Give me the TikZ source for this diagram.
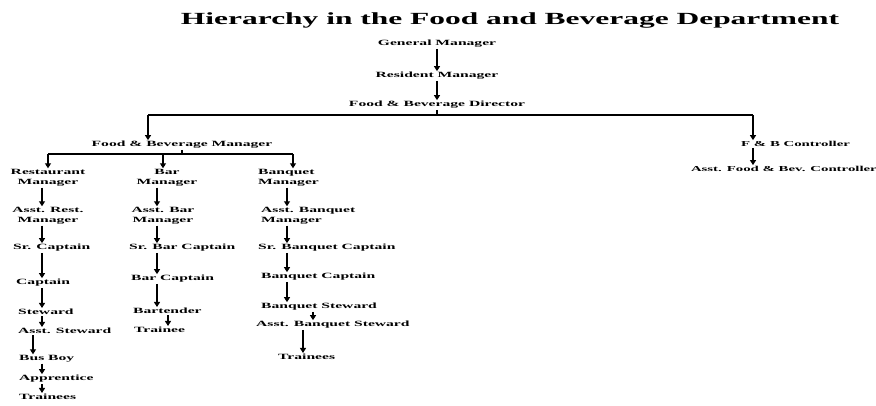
\documentclass[tikz,border=0pt]{standalone}
\usepackage{fontspec}
\setmainfont{Liberation Serif}
\newfontfamily\labfont[FakeStretch=1.95]{Liberation Serif}
\newfontfamily\titlefont[FakeStretch=1.85]{Liberation Serif}
\usetikzlibrary{arrows.meta}
\tikzset{
  lab/.style={font=\labfont\bfseries\fontsize{8}{10}\selectfont, inner sep=1pt, align=center},
  labl/.style={lab, align=left, anchor=west},
  rlab/.style={lab, font=\labfont\bfseries\fontsize{7.6}{9}\selectfont},
  arr/.style={-{Triangle[length=5pt,width=6pt]}, line width=1.1pt},
  ln/.style={line width=1.1pt},
}
\begin{document}
\begin{tikzpicture}[x=1pt,y=-1pt]
\useasboundingbox[fill=white] (0,0) rectangle (876,405);
\node[font=\titlefont\bfseries\fontsize{17}{20}\selectfont, inner sep=0pt] (title) at (510,20) {Hierarchy in the Food and Beverage Department};
% top chain
\node[lab] (gm) at (437,44) {General Manager};
\node[lab] (rm) at (437,76) {Resident Manager};
\node[lab] (fbd) at (437,105) {Food \& Beverage Director};
\node[lab] (fbm) at (182,145) {Food \& Beverage Manager};
\node[rlab, anchor=west] (fbc) at (740,144) {F \& B Controller};
\node[rlab, anchor=east] (afbc) at (878,169) {Asst. Food \& Bev. Controller};
% restaurant column
\node[lab] (rest) at (48,178) {Restaurant\\Manager};
\node[lab] (arest) at (48,216) {Asst. Rest.\\Manager};
\node[labl] (srcap) at (12,248) {Sr. Captain};
\node[labl] (cap) at (15,283) {Captain};
\node[labl] (stew) at (17,312) {Steward};
\node[labl] (astew) at (17,331) {Asst. Steward};
\node[labl] (busboy) at (18,359) {Bus Boy};
\node[labl] (appr) at (18,379) {Apprentice};
\node[labl] (trR) at (18,397) {Trainees};
% bar column
\node[lab] (bar) at (167,178) {Bar\\Manager};
\node[lab] (abar) at (163,216) {Asst. Bar\\Manager};
\node[labl] (srbar) at (128,248) {Sr. Bar Captain};
\node[labl] (barcap) at (130,279) {Bar Captain};
\node[labl] (bartender) at (132,311) {Bartender};
\node[labl] (trB) at (133,330) {Trainee};
% banquet column
\node[labl] (banq) at (257,178) {Banquet\\Manager};
\node[labl] (abanq) at (260,216) {Asst. Banquet\\Manager};
\node[labl] (srbanq) at (257,248) {Sr. Banquet Captain};
\node[labl] (banqcap) at (260,277) {Banquet Captain};
\node[labl] (banqstew) at (260,307) {Banquet Steward};
\node[labl] (abanqstew) at (255,325) {Asst. Banquet Steward};
\node[labl] (trQ) at (277,357) {Trainees};
% helper coordinates
\coordinate (j1) at (437,115);
\coordinate (jL) at (148,115);
\coordinate (jR) at (753,115);
\coordinate (k1) at (48,154);
\coordinate (k2) at (163,154);
\coordinate (k3) at (293,154);
\coordinate (x42) at (42,0);
\coordinate (x33) at (33,0);
\coordinate (x157) at (157,0);
\coordinate (x168) at (168,0);
\coordinate (x287) at (287,0);
\coordinate (x313) at (313,0);
\coordinate (x303) at (303,0);
% top connectors
\draw[arr] (gm) -- (rm);
\draw[arr] (rm) -- (fbd);
\draw[ln] (fbd) -- (j1);
\draw[ln] (jL) -- (jR);
\draw[arr] (jL) -- (jL |- fbm.north);
\draw[arr] (jR) -- (jR |- fbc.north);
\draw[arr] (fbc.south -| jR) -- (afbc.north -| jR);
\draw[ln] (fbm.south) -- (fbm.south |- k1);
\draw[ln] (k1) -- (k3);
\draw[arr] (k1) -- (k1 |- rest.north);
\draw[arr] (k2) -- (k2 |- bar.north);
\draw[arr] (k3) -- (k3 |- banq.north);
% restaurant arrows
\draw[arr] (rest.south -| x42) -- (arest.north -| x42);
\draw[arr] (arest.south -| x42) -- (srcap.north -| x42);
\draw[arr] (srcap.south -| x42) -- (cap.north -| x42);
\draw[arr] (cap.south -| x42) -- (stew.north -| x42);
\draw[arr] (stew.south -| x42) -- (astew.north -| x42);
\draw[arr] (astew.south -| x33) -- (busboy.north -| x33);
\draw[arr] (busboy.south -| x42) -- (appr.north -| x42);
\draw[arr] (appr.south -| x42) -- (trR.north -| x42);
% bar arrows
\draw[arr] (bar.south -| x157) -- (abar.north -| x157);
\draw[arr] (abar.south -| x157) -- (srbar.north -| x157);
\draw[arr] (srbar.south -| x157) -- (barcap.north -| x157);
\draw[arr] (barcap.south -| x157) -- (bartender.north -| x157);
\draw[arr] (bartender.south -| x168) -- (trB.north -| x168);
% banquet arrows
\draw[arr] (banq.south -| x287) -- (abanq.north -| x287);
\draw[arr] (abanq.south -| x287) -- (srbanq.north -| x287);
\draw[arr] (srbanq.south -| x287) -- (banqcap.north -| x287);
\draw[arr] (banqcap.south -| x287) -- (banqstew.north -| x287);
\draw[arr] (banqstew.south -| x313) -- (abanqstew.north -| x313);
\draw[arr] (abanqstew.south -| x303) -- (trQ.north -| x303);
\end{tikzpicture}
\end{document}
